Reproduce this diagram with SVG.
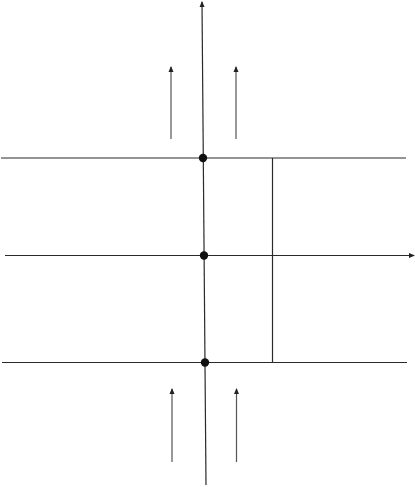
<svg xmlns="http://www.w3.org/2000/svg" width="415" height="487" viewBox="0 0 415 487">
<defs>
<style>
.ln{stroke:#2a2a2a;stroke-width:1.2;fill:none}
.ar{stroke:#555;stroke-width:1.2;fill:none}
.dot{fill:#111}
</style>
<marker id="ah" markerWidth="6" markerHeight="6" refX="5" refY="3" orient="auto" markerUnits="userSpaceOnUse">
<path d="M0,0.5 L6,3 L0,5.5 Z" fill="#222"/>
</marker>
</defs>
<g id="connectors">
<line class="ln" x1="206" y1="485" x2="202" y2="2" marker-end="url(#ah)"/>
<line class="ln" x1="1" y1="158" x2="406" y2="158"/>
<line class="ln" x1="5" y1="255.5" x2="414" y2="255.5" marker-end="url(#ah)"/>
<line class="ln" x1="2" y1="362.5" x2="407" y2="362.5"/>
<line class="ln" x1="272.5" y1="158" x2="272.5" y2="362.5"/>
<line class="ar" x1="171" y1="139" x2="171" y2="67" marker-end="url(#ah)"/>
<line class="ar" x1="236" y1="139" x2="236" y2="67" marker-end="url(#ah)"/>
<line class="ar" x1="172" y1="462" x2="172" y2="389" marker-end="url(#ah)"/>
<line class="ar" x1="236.5" y1="462" x2="236.5" y2="389" marker-end="url(#ah)"/>
</g>
<g id="n1"><circle class="dot" cx="203" cy="158" r="4.2"/></g>
<g id="n2"><circle class="dot" cx="204" cy="255.5" r="4.2"/></g>
<g id="n3"><circle class="dot" cx="205" cy="362.5" r="4.2"/></g>
</svg>
